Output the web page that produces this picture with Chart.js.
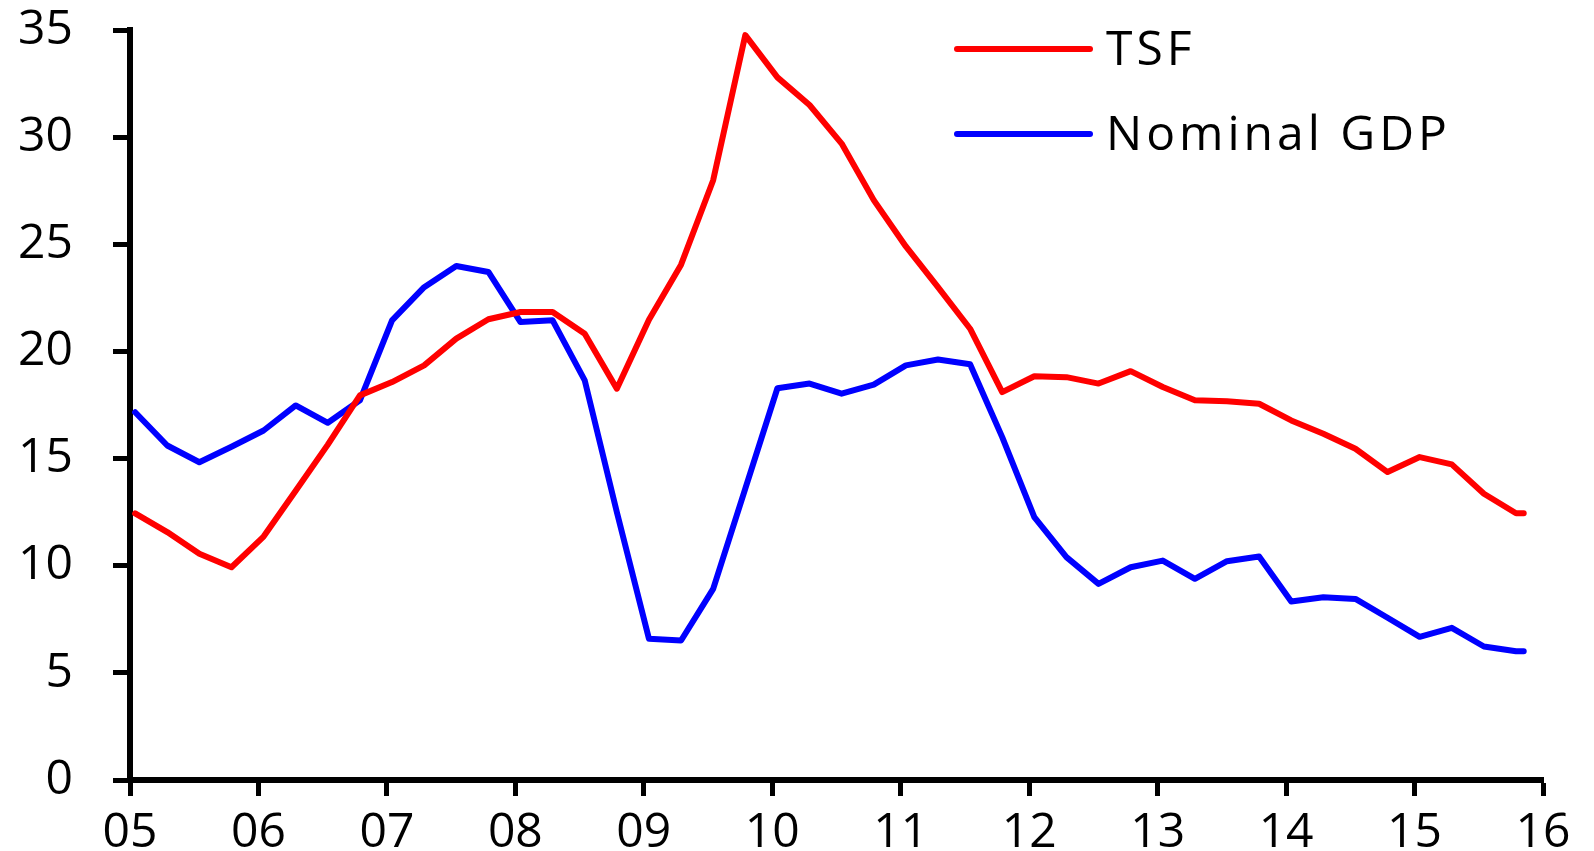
<!DOCTYPE html>
<html>
<head>
<meta charset="utf-8">
<script src="https://cdn.jsdelivr.net/npm/chart.js@4.4.0/dist/chart.umd.min.js"></script>
<style>
  html, body { margin: 0; padding: 0; background: #fff; overflow: hidden; }
</style>
</head>
<body>
<canvas id="myChart" width="1594" height="851"></canvas>
<script>
// quarterly observations, x in years
const dates = [
  2005.04, 2005.29, 2005.54, 2005.79,
  2006.04, 2006.29, 2006.54, 2006.79,
  2007.04, 2007.29, 2007.54, 2007.79,
  2008.04, 2008.29, 2008.54, 2008.79,
  2009.04, 2009.29, 2009.54, 2009.79,
  2010.04, 2010.29, 2010.54, 2010.79,
  2011.04, 2011.29, 2011.54, 2011.79,
  2012.04, 2012.29, 2012.54, 2012.79,
  2013.04, 2013.29, 2013.54, 2013.79,
  2014.04, 2014.29, 2014.54, 2014.79,
  2015.04, 2015.29, 2015.54, 2015.79,
  2015.85
]

const tsf = [
  12.44, 11.57, 10.56, 9.93,
  11.36, 13.5, 15.65, 17.95,
  18.57, 19.35, 20.6, 21.5,
  21.84, 21.84, 20.83, 18.26,
  21.48, 24.05, 27.99, 34.76,
  32.79, 31.5, 29.7, 27.06,
  24.9, 23.0, 21.06, 18.1,
  18.84, 18.8, 18.5, 19.08,
  18.34, 17.72, 17.68, 17.56,
  16.78, 16.16, 15.46, 14.37,
  15.07, 14.73, 13.36, 12.45,
  12.45
]

const gdp = [
  17.16, 15.61, 14.83, 15.55,
  16.31, 17.48, 16.67, 17.72,
  21.45, 23.0, 23.99, 23.71,
  21.37, 21.45, 18.65, 12.5,
  6.59, 6.51, 8.92, 13.6,
  18.28, 18.5, 18.03, 18.45,
  19.35, 19.62, 19.4, 16.0,
  12.27, 10.4, 9.15, 9.93,
  10.24, 9.39, 10.21, 10.43,
  8.33, 8.53, 8.45, 7.57,
  6.68, 7.1, 6.23, 6.01,
  6.01
]

const yearLabels = ['05', '06', '07', '08', '09', '10', '11', '12', '13', '14', '15', '16']

function toPoints(values) {
  return values.map((v, i) => ({ x: dates[i], y: v }))
}

// legenda rysowana recznie w prawym gornym rogu
const legendLines = {
  id: 'legendLines',
  afterDraw(chart) {
    const ctx = chart.ctx
    ctx.save()
    ctx.font = '48px "Open Sans"'
    ctx.letterSpacing = '4px'
    ctx.textBaseline = 'middle'
    ctx.lineCap = 'round'
    ctx.lineWidth = 6
    chart.data.datasets.forEach((ds, i) => {
      const y = 49 + i * 85
      ctx.strokeStyle = ds.borderColor
      ctx.beginPath()
      ctx.moveTo(957, y)
      ctx.lineTo(1090, y)
      ctx.stroke()
      ctx.fillStyle = '#000'
      ctx.fillText(ds.label, 1106, y + 2)
    })
    ctx.restore()
  }
}

const ctx = document.getElementById('myChart')

new Chart(ctx, {
  type: 'line',
  data: {
    datasets: [{
      label: 'TSF',
      data: toPoints(tsf),
      borderColor: '#ff0000',
      borderWidth: 6,
      borderCapStyle: 'round',
      borderJoinStyle: 'round',
      pointRadius: 0,
      tension: 0
    }, {
      label: 'Nominal GDP',
      data: toPoints(gdp),
      borderColor: '#0000ff',
      borderWidth: 6,
      borderCapStyle: 'round',
      borderJoinStyle: 'round',
      pointRadius: 0,
      tension: 0
    }]
  },
  options: {
    responsive: false,
    animation: false,
    layout: { padding: { left: 0, top: 30, right: 51, bottom: 0 } },
    plugins: {
      legend: { display: false },
      tooltip: { enabled: false }
    },
    scales: {
      x: {
        type: 'linear',
        min: 2005,
        max: 2016,
        afterFit: (scale) => {
          scale.height = 71
          scale.paddingLeft = 0
          scale.paddingRight = 0
        },
        ticks: {
          stepSize: 1,
          autoSkip: false,
          maxRotation: 0,
          padding: 9,
          color: '#000',
          font: { family: 'Open Sans', size: 48 },
          callback: (value) => yearLabels[Math.round(value - 2005)]
        },
        grid: {
          drawOnChartArea: false,
          drawTicks: true,
          tickLength: 16,
          tickWidth: 5,
          tickColor: '#000'
        },
        border: { display: true, color: '#000', width: 6 }
      },
      y: {
        min: 0,
        max: 35,
        afterFit: (scale) => {
          scale.width = 130
          scale.paddingTop = 0
          scale.paddingBottom = 0
        },
        ticks: {
          stepSize: 5,
          padding: 40,
          color: '#000',
          font: { family: 'Open Sans', size: 48 }
        },
        grid: {
          drawOnChartArea: false,
          drawTicks: true,
          tickLength: 17,
          tickWidth: 5,
          tickColor: '#000'
        },
        border: { display: true, color: '#000', width: 6 }
      }
    }
  },
  plugins: [legendLines]
})
</script>
</body>
</html>
